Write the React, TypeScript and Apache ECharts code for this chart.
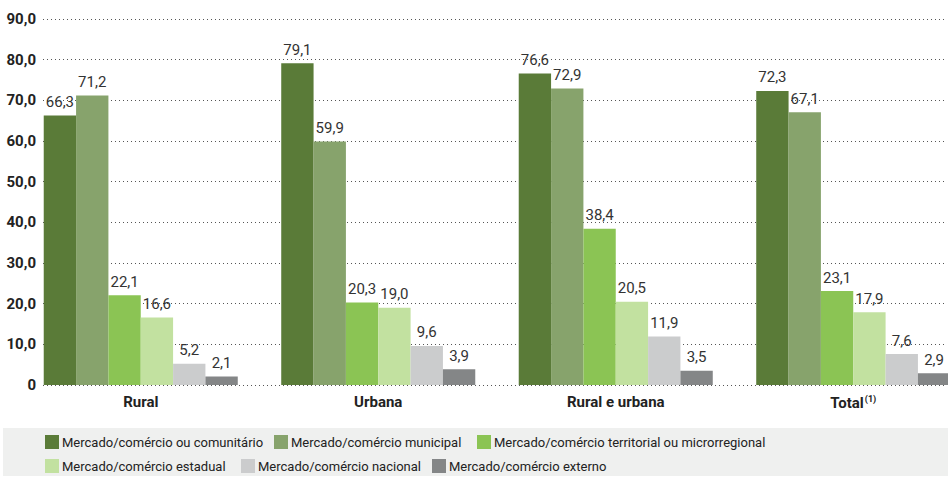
import React, { useEffect, useRef } from "react";
import * as echarts from "echarts";

const categories = ["Rural", "Urbana", "Rural e urbana", "Total"];
const seriesNames = [
  "Mercado/comércio ou comunitário",
  "Mercado/comércio municipal",
  "Mercado/comércio territorial ou microrregional",
  "Mercado/comércio estadual",
  "Mercado/comércio nacional",
  "Mercado/comércio externo",
];
const comunitario = [66.3, 79.1, 76.6, 72.3];
const municipal = [71.2, 59.9, 72.9, 67.1];
const territorial = [22.1, 20.3, 38.4, 23.1];
const estadual = [16.6, 19.0, 20.5, 17.9];
const nacional = [5.2, 9.6, 11.9, 7.6];
const externo = [2.1, 3.9, 3.5, 2.9];
const seriesValues = [comunitario, municipal, territorial, estadual, nacional, externo];
const colors = ["#5a7b38", "#87a36c", "#8bc454", "#c2e1a0", "#cbcccd", "#848687"];

const legendLeft = [45, 274, 477, 45, 241, 432];
const legendTop = [435, 435, 435, 459, 459, 459];

const FONT = "Roboto, 'Liberation Sans', sans-serif";

const fmt = (v: number) => v.toFixed(1).replace(".", ",");

export default function App() {
  const ref = useRef<HTMLDivElement>(null);
  useEffect(() => {
    if (!ref.current) return;
    const chart = echarts.init(ref.current, null, { renderer: "svg" });
    const option: any = {
      animation: false,
      textStyle: { fontFamily: FONT },
      graphic: [
        {
          type: "rect",
          shape: { x: 3, y: 428, width: 945, height: 48 },
          style: { fill: "#eff0ef" },
          z: -10,
        },
      ],
      legend: seriesNames.map((name, i) => ({
        data: [name],
        left: legendLeft[i],
        top: legendTop[i],
        padding: 0,
        itemWidth: 14,
        itemHeight: 14,
        itemGap: 0,
        icon: "rect",
        textStyle: { fontFamily: FONT, fontSize: 13, color: "#222", padding: [0, 0, 0, -2] },
      })),
      grid: [
        { left: 22, width: 950, top: 19, bottom: 97, containLabel: false, outerBoundsMode: "none" },
        { left: 43, right: 3, top: 19, bottom: 97, containLabel: false, outerBoundsMode: "none" },
      ],
      xAxis: [
        {
          type: "category",
          gridIndex: 0,
          data: categories,
          axisLine: { show: false },
          axisTick: { show: false },
          axisLabel: {
            margin: 9,
            fontFamily: FONT,
            fontSize: 15,
            fontWeight: "bold",
            color: "#222",
            formatter: (v: string) => (v === "Total" ? "{a|Total}{s|(1)}" : "{a|" + v + "}"),
            rich: {
              a: { fontFamily: FONT, fontSize: 15, fontWeight: "bold", color: "#222" },
              s: { fontFamily: FONT, fontSize: 9, fontWeight: "bold", color: "#222", verticalAlign: "top", padding: [0, 0, 8, 1] },
            },
          },
        },
        {
          type: "category",
          gridIndex: 1,
          data: categories,
          show: false,
        },
      ],
      yAxis: [
        {
          type: "value",
          gridIndex: 0,
          min: 0,
          max: 90,
          interval: 10,
          show: false,
          splitLine: { show: false },
        },
        {
          type: "value",
          gridIndex: 1,
          min: 0,
          max: 90,
          interval: 10,
          axisLine: { show: false },
          axisTick: { show: false },
          axisLabel: {
            margin: 7,
            fontFamily: FONT,
            fontSize: 15,
            fontWeight: "bold",
            color: "#222",
            formatter: (v: number) => (v === 0 ? "0" : fmt(v)),
          },
          splitLine: { show: true, lineStyle: { color: "#555", type: [1, 3], width: 1 } },
        },
      ],
      series: seriesNames.map((name, i) => ({
        name,
        type: "bar",
        xAxisIndex: 0,
        yAxisIndex: 0,
        data: seriesValues[i],
        barGap: "0%",
        barCategoryGap: "18.3%",
        itemStyle: { color: colors[i] },
        label: {
          show: true,
          position: "top",
          distance: 6,
          fontFamily: FONT,
          fontSize: 15,
          color: "#333",
          formatter: (p: any) => fmt(p.value),
        },
      })),
    };
    chart.setOption(option);
    return () => chart.dispose();
  }, []);
  return <div ref={ref} style={{ width: 948, height: 482, position: "absolute", left: 0, top: 0 }} />;
}
